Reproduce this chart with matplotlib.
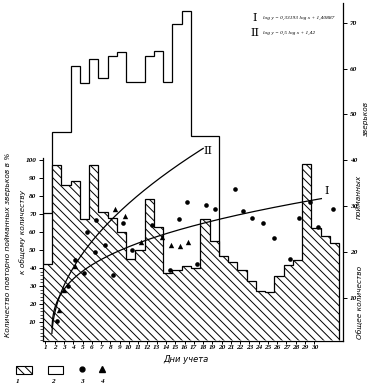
import numpy as np
import matplotlib.pyplot as plt
from matplotlib.patches import Rectangle
from matplotlib.lines import Line2D

plt.rcParams['hatch.linewidth'] = 0.7

# hatched columns (1), % of recaptured animals, left axis
hatched = [42, 97, 86, 88.5, 67, 97, 71, 68, 60, 45, 50, 78, 63, 37, 39, 41,
           40, 67, 55, 46.7, 43.5, 39, 33, 27, 26.5, 35.5, 41.7, 44.4, 97.8,
           62, 58, 54]
# open columns (2), total number caught, right axis (only first 19 columns)
total = [28.6, 46.2, 46.2, 60.6, 56.9, 62.1, 58.0, 62.8, 63.7, 57.1, 57.1,
         62.8, 63.9, 57.1, 69.8, 72.6, 45.4, 45.4, 45.4]
days = np.arange(1, 31)

# points (3) dots and (4) triangles, x in column units
dot_x = [1.51, 2.76, 3.48, 4.49, 4.75, 5.72, 5.64, 6.72, 7.62, 8.69, 9.6,
         11.76, 13.73, 14.7, 15.53, 16.61, 17.62, 18.59, 20.74, 21.64, 22.55,
         23.73, 24.95, 26.68, 27.68, 28.84, 29.73, 31.28]
dot_y = [10.5, 30, 44.4, 37, 60, 66.7, 49, 52.8, 36, 65, 50, 64, 39, 67, 76.8,
         42, 75, 73, 83.7, 71.8, 67.6, 65.2, 56.5, 44.8, 68, 76.8, 62.6, 72.6]
tri_x = [1.79, 2.3, 3.48, 7.8, 8.88, 10.6, 12.87, 13.84, 14.8, 15.7]
tri_y = [16.7, 28, 41, 73, 69, 54.6, 57, 53, 52, 54.6]

# regression curves: log y = b log x + a
a1, b1 = 1.40887, 0.33193
a2, b2 = 1.42, 0.5
x0 = 0.97  # curve origin in column units


def r2l(v):
    return 2.546 * v - 2.1


def l2r(u):
    return (u + 2.1) / 2.546


fig = plt.figure(figsize=(3.73, 3.87), dpi=100)
ax = fig.add_axes([0.1145, 0.1189, 0.805, 0.8733])
ax.set_xlim(0, 32.4)
ax.set_ylim(-0.5, 187)

edges = np.arange(0, len(hatched) + 1)
ax.stairs(r2l(np.array(total)), edges[:len(total) + 1], baseline=0,
          color='black', lw=0.9, zorder=2)
ax.stairs(hatched, edges, baseline=0, fill=True, facecolor='white',
          edgecolor='black', hatch='\\\\\\\\', lw=0.9, zorder=3)

t1 = np.linspace(0.02, 29.1, 300)
t2 = np.linspace(0.02, 16.35, 300)
ax.plot(t1 + x0, 10 ** (b1 * np.log10(t1) + a1), color='black', lw=0.9, zorder=4)
ax.plot(t2 + x0, 10 ** (b2 * np.log10(t2) + a2), color='black', lw=0.9, zorder=4)
ax.text(17.83, 105, 'II', family='DejaVu Serif', fontsize=8, ha='center', va='center')
ax.text(30.67, 82.8, 'I', family='DejaVu Serif', fontsize=8, ha='center', va='center')

ax.scatter(dot_x, dot_y, s=11, color='black', zorder=5, linewidths=0)
ax.scatter(tri_x, tri_y, s=15, marker='^', color='black', zorder=5, linewidths=0)

for s in ['top', 'right']:
    ax.spines[s].set_visible(False)
ax.spines['left'].set_bounds(0, 101)
ax.spines['left'].set_linewidth(0.9)
ax.spines['bottom'].set_linewidth(0.9)

tfont = dict(family='Liberation Serif', style='italic', weight='bold', size=5.2)
ax.set_xticks(days - 0.7)
ax.set_xticklabels([str(d) for d in days], **tfont)
ax.set_yticks(np.arange(10, 101, 10))
ax.set_yticklabels([str(v) for v in range(10, 101, 10)], **tfont)
ax.set_yticks(np.arange(0, 40, 2), minor=True)
ax.tick_params(axis='x', length=2, width=0.7, pad=1.2)
ax.tick_params(axis='y', length=3, width=0.7, pad=1.5)
ax.tick_params(axis='y', which='minor', length=2, width=0.5)

sec = ax.secondary_yaxis('right', functions=(l2r, r2l))
sec.set_yticks(np.arange(10, 71, 10))
sec.set_yticklabels([str(v) for v in range(10, 71, 10)], **tfont)
sec.tick_params(length=3, width=0.7, pad=2)
sec.spines['right'].set_linewidth(0.9)


def px(x, y):
    return x / 373, 1 - y / 387


lfont = dict(family='DejaVu Sans', style='italic', size=5.3)
fig.text(*px(8, 245), 'Количество повторно пойманных зверьков в %',
         rotation=90, ha='center', va='center', **lfont)
fig.text(*px(23, 232), 'к общему количеству', rotation=90,
         ha='center', va='center', **lfont)
fig.text(*px(360, 302), 'Общее количество', rotation=90,
         ha='center', va='center', **lfont)
fig.text(*px(359, 197), 'пойманных', rotation=90, ha='center', va='center', **lfont)
fig.text(*px(366, 118), 'зверьков', rotation=90, ha='center', va='center', **lfont)
fig.text(*px(186, 360), 'Дни учета', ha='center', va='center',
         family='DejaVu Sans', style='italic', size=6)

# equations
fig.text(*px(255, 18), 'I', family='DejaVu Serif', size=8, ha='center', va='center')
fig.text(*px(255, 33), 'II', family='DejaVu Serif', size=8, ha='center', va='center')
efont = dict(family='Liberation Serif', style='italic', size=3.9, va='center')
fig.text(*px(263, 18), 'log y = 0,33193 log x + 1,40887', **efont)
fig.text(*px(263, 33), 'log y = 0,5 log x + 1,42', **efont)

# legend below the chart
fig.add_artist(Rectangle(px(16, 373.5), 15.7 / 373, 7.5 / 387, transform=fig.transFigure,
                         facecolor='white', edgecolor='black', hatch='\\\\\\\\', lw=0.8))
fig.add_artist(Rectangle(px(48.3, 373.5), 15 / 373, 7.5 / 387, transform=fig.transFigure,
                         facecolor='white', edgecolor='black', lw=0.8))
fig.add_artist(Line2D([81.7 / 373], [1 - 369 / 387], marker='o', ms=3.5,
                      color='black', transform=fig.transFigure))
fig.add_artist(Line2D([101.7 / 373], [1 - 369 / 387], marker='^', ms=4,
                      color='black', transform=fig.transFigure))
for lab, xx in zip(['1', '2', '3', '4'], [18, 53, 82, 102]):
    fig.text(*px(xx, 381.5), lab, ha='center', va='center', **tfont)

plt.savefig('out.png', dpi=100)
